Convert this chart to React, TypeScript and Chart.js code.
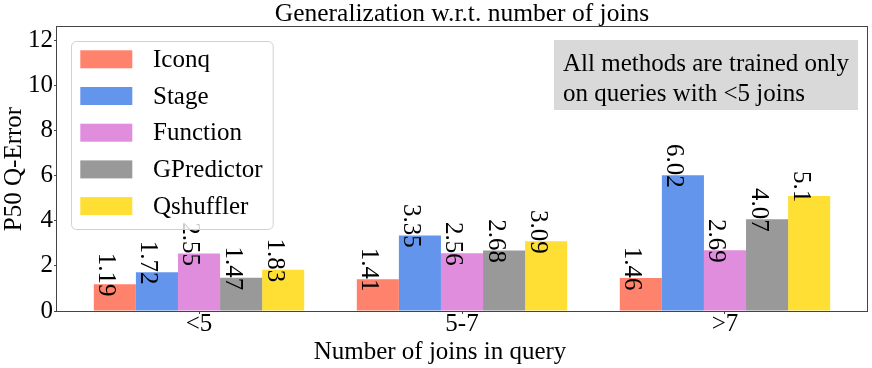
import React, { useEffect, useRef } from "react";
import { Chart, registerables } from "chart.js";

Chart.register(...registerables);

const FONT = '"Liberation Serif", "Times New Roman", serif';

const categories = ["<5", "5-7", ">7"];
const methods = ["Iconq", "Stage", "Function", "GPredictor", "Qshuffler"];
const iconq = [1.19, 1.41, 1.46];
const stage = [1.72, 3.35, 6.02];
const func = [2.55, 2.56, 2.69];
const gpredictor = [1.47, 2.68, 4.07];
const qshuffler = [1.83, 3.09, 5.1];
const series = [iconq, stage, func, gpredictor, qshuffler];
const colors = ["#FF826C", "#6495ED", "#E18DDE", "#999999", "#FFDF33"];
const yTicks = [0, 2, 4, 6, 8, 10, 12];
const titleText = "Generalization w.r.t. number of joins";
const yLabel = "P50 Q-Error";
const xLabel = "Number of joins in query";
const noteLines = ["All methods are trained only", "on queries with <5 joins"];

const overlayPlugin = {
  id: "overlay",
  afterDatasetsDraw(chart: any) {
    const ctx = chart.ctx;
    ctx.save();
    ctx.font = `25px ${FONT}`;
    ctx.fillStyle = "#000";
    ctx.textAlign = "center";
    ctx.textBaseline = "middle";
    chart.data.datasets.forEach((ds: any, i: number) => {
      const meta = chart.getDatasetMeta(i);
      meta.data.forEach((bar: any, j: number) => {
        const v = ds.data[j].y;
        ctx.save();
        ctx.translate(bar.x - 9, bar.y - 9.5);
        ctx.rotate(Math.PI / 2);
        ctx.fillText(String(v), 0, 0);
        ctx.restore();
      });
    });
    ctx.restore();
  },
  afterDraw(chart: any) {
    const ctx = chart.ctx;
    const ca = chart.chartArea;
    // frame
    ctx.save();
    ctx.strokeStyle = "#444";
    ctx.lineWidth = 1;
    ctx.strokeRect(Math.round(ca.left) - 0.5, Math.round(ca.top) - 0.5, Math.round(ca.right - ca.left) + 1, Math.round(ca.bottom - ca.top) + 1);
    ctx.restore();

    // title and x axis label
    ctx.save();
    ctx.fillStyle = "#000";
    ctx.textAlign = "center";
    ctx.textBaseline = "alphabetic";
    ctx.font = `25.5px ${FONT}`;
    ctx.fillText(titleText, (ca.left + ca.right) / 2, ca.top - 6);
    ctx.font = `25px ${FONT}`;
    ctx.fillText(xLabel, ca.left + 383, ca.bottom + 48);
    ctx.restore();

    // legend
    ctx.save();
    ctx.font = `25px ${FONT}`;
    const bx = ca.left + 14;
    const by = ca.top + 14;
    const sw = 52;
    const sh = 18;
    const pitch = 36.7;
    const textX = bx + 82;
    let maxW = 0;
    methods.forEach((m) => {
      maxW = Math.max(maxW, ctx.measureText(m).width);
    });
    const bw = textX - bx + maxW + 10;
    const bh = 188;
    ctx.beginPath();
    if (ctx.roundRect) ctx.roundRect(bx + 0.5, by + 0.5, bw, bh, 5);
    else ctx.rect(bx + 0.5, by + 0.5, bw, bh);
    ctx.fillStyle = "rgba(255,255,255,0.8)";
    ctx.fill();
    ctx.strokeStyle = "#d0d0d0";
    ctx.lineWidth = 1;
    ctx.stroke();
    ctx.textAlign = "left";
    ctx.textBaseline = "middle";
    chart.data.datasets.forEach((ds: any, i: number) => {
      const sy = by + 9.3 + i * pitch;
      ctx.fillStyle = ds.backgroundColor;
      ctx.fillRect(bx + 9.3, sy, sw, sh);
      ctx.fillStyle = "#000";
      ctx.fillText(ds.label, textX, sy + sh / 2 + 1);
    });
    ctx.restore();

    // note box
    ctx.save();
    ctx.font = `25px ${FONT}`;
    let nw = 0;
    noteLines.forEach((l) => {
      nw = Math.max(nw, ctx.measureText(l).width);
    });
    const nx = ca.left + 497;
    const ny = ca.top + 13;
    ctx.fillStyle = "#d9d9d9";
    ctx.fillRect(nx, ny, nw + 18, 70);
    ctx.fillStyle = "#000";
    ctx.textAlign = "left";
    ctx.textBaseline = "alphabetic";
    noteLines.forEach((l, k) => {
      ctx.fillText(l, nx + 9, ny + 30.5 + k * 30);
    });
    ctx.restore();
  },
};

export default function App() {
  const canvasRef = useRef<HTMLCanvasElement | null>(null);

  useEffect(() => {
    const canvas = canvasRef.current;
    if (!canvas) return;
    const datasets = methods.map((m, i) => ({
      label: m,
      data: series[i].map((v, j) => ({ x: j, y: v })),
      backgroundColor: colors[i],
      borderWidth: 0,
      categoryPercentage: 0.8,
      barPercentage: 1.0,
    }));
    const chart = new Chart(canvas, {
      type: "bar",
      data: { datasets },
      options: {
        animation: false,
        responsive: false,
        maintainAspectRatio: false,
        layout: { padding: { left: 0, right: 5, top: 27, bottom: 0 } },
        plugins: {
          legend: { display: false },
          tooltip: { enabled: false },
          title: { display: false },
        },
        scales: {
          x: {
            type: "linear",
            bounds: "data",
            min: -0.54,
            max: 2.54,
            offset: false,
            afterBuildTicks: (s: any) => {
              s.ticks = categories.map((_, i) => ({ value: i }));
            },
            afterFit: (s: any) => {
              s.height = 57;
            },
            ticks: {
              callback: (v: any) => categories[v] ?? "",
              color: "#000",
              font: { family: FONT, size: 25, lineHeight: 0.8 },
              padding: 0,
              maxRotation: 0,
              minRotation: 0,
              autoSkip: false,
            },
            grid: {
              offset: false,
              drawOnChartArea: false,
              color: "#444",
              tickColor: "#444",
              tickLength: 3,
              tickWidth: 1,
            },
            border: { display: false },
            title: { display: false },
          },
          y: {
            bounds: "data",
            min: 0,
            max: 12.6,
            afterBuildTicks: (s: any) => {
              s.ticks = yTicks.map((v) => ({ value: v }));
            },
            afterFit: (s: any) => {
              s.width = 57;
            },
            ticks: {
              color: "#000",
              font: { family: FONT, size: 25 },
              padding: 1,
            },
            grid: {
              drawOnChartArea: false,
              color: "#444",
              tickColor: "#444",
              tickLength: 3,
              tickWidth: 1,
            },
            border: { display: false },
            title: {
              display: true,
              text: yLabel,
              color: "#000",
              font: { family: FONT, size: 25, lineHeight: 1 },
              padding: { top: 1.5, bottom: 0 },
            },
          },
        },
      } as any,
      plugins: [overlayPlugin],
    });
    return () => chart.destroy();
  }, []);

  return (
    <div style={{ position: "fixed", left: 0, top: 0, width: 872, height: 368, background: "#fff" }}>
      <canvas ref={canvasRef} width={872} height={368} style={{ display: "block" }} />
    </div>
  );
}
